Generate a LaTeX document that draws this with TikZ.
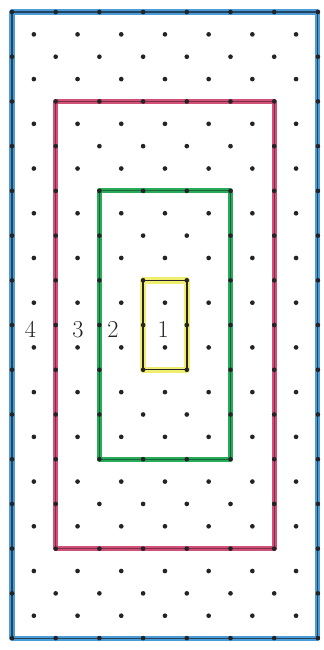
\documentclass[tikz,border=0pt]{standalone}
\definecolor{penblue}{RGB}{75,155,215}
\definecolor{penred}{RGB}{208,80,120}
\definecolor{pengreen}{RGB}{40,170,90}
\definecolor{penyellow}{RGB}{240,238,110}
\definecolor{pencil}{RGB}{35,35,40}
\tikzset{
	frame/.style={line width=4.4pt, line join=round},
	trace/.style={line width=0.9pt},
	digit/.style={font=\huge, text=pencil, inner sep=0pt},
}
\begin{document}
\begin{tikzpicture}[x=1.311cm, y=-0.6708cm]
	\useasboundingbox (-0.36cm,0.36cm) rectangle (9.33cm,-19.14cm);
	% the four frames
	\draw[frame, penblue] (0, 0) rectangle (7, 28);
	\draw[frame, penred] (1, 4) rectangle (6, 24);
	\draw[frame, pengreen] (2, 8) rectangle (5, 20);
	\draw[frame, penyellow, line width=5.5pt] (3, 12) rectangle (4, 16);
	\draw[trace, penblue!45!black] (0, 0) rectangle (7, 28);
	\draw[trace, penred!60!black] (1, 4) rectangle (6, 24);
	\draw[trace, pengreen!60!black] (2, 8) rectangle (5, 20);
	\draw[trace, pencil, line width=1.2pt] (3, 12) rectangle (4, 16);
	% dot grid
	\foreach \r in {0, 2, ..., 28}
		\foreach \c in {0, ..., 7}
			\fill[pencil] (\c, \r) circle (2pt);
	\foreach \r in {1, 3, ..., 27}
		\foreach \c in {0.5, 1.5, ..., 6.5}
			\fill[pencil] (\c, \r) circle (2pt);
	% labels
	\node[digit] (four) at (0.42, 14.2) {4};
	\node[digit] (three) at (1.51, 14.2) {3};
	\node[digit] (two) at (2.31, 14.2) {2};
	\node[digit] (one) at (3.46, 14.2) {1};
\end{tikzpicture}
\end{document}
